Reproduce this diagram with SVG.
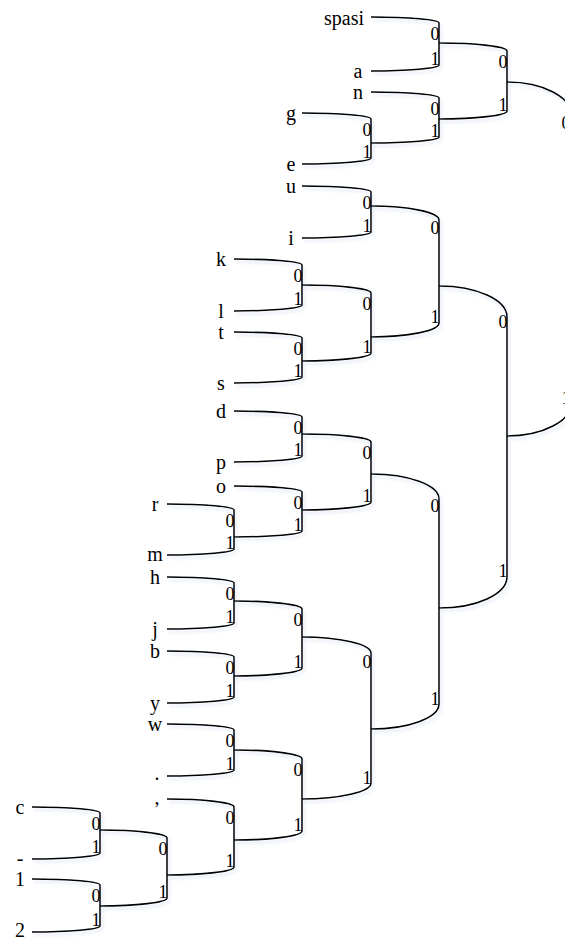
<svg xmlns="http://www.w3.org/2000/svg" width="565" height="940" viewBox="0 0 565 940">
  <style>
    .br { fill: none; stroke: #000; stroke-width: 1.6; }
    .bit { font-family: "Liberation Serif", "Times New Roman", serif; font-size: 18px; fill: #000; text-anchor: end; }
    .sym { font-family: "Liberation Serif", "Times New Roman", serif; font-size: 20px; fill: #000; text-anchor: middle; }
  </style>
  <defs>
    <filter id="soft" x="-10%" y="-10%" width="130%" height="130%">
      <feDropShadow dx="2" dy="3" stdDeviation="1.4" flood-color="#9db6d8" flood-opacity="0.35"/>
    </filter>
  </defs>
  <rect width="565" height="940" fill="#fff"/>

  <!-- bracket connectors: each joins two children into their parent -->
  <g id="connectors" filter="url(#soft)">
    <path id="e-root" class="br" d="M507,82 C542.9,82 572,97.2 572,116 L572,402 C572,420.8 542.9,436 507,436"/>
    <path id="e-A" class="br" d="M439,43 C476.5,43 507,46.6 507,51 L507,111 C507,115.4 476.5,119 439,119"/>
    <path id="e-S1" class="br" d="M371,17 C408.5,17 439,19.7 439,23 L439,65 C439,68.3 408.5,71 371,71"/>
    <path id="e-A2" class="br" d="M371,92 C408.5,92 439,94.7 439,98 L439,137 C439,140.3 408.5,143 371,143"/>
    <path id="e-ge" class="br" d="M302,113 C340.1,113 371,115.7 371,119 L371,158 C371,161.3 340.1,164 302,164"/>
    <path id="e-B" class="br" d="M439,286 C476.5,286 507,299.9 507,317 L507,577 C507,594.1 476.5,608 439,608"/>
    <path id="e-B1" class="br" d="M371,206 C408.5,206 439,212.3 439,220 L439,323 C439,330.7 408.5,337 371,337"/>
    <path id="e-B1a" class="br" d="M302,186 C340.1,186 371,188.7 371,192 L371,232 C371,235.3 340.1,238 302,238"/>
    <path id="e-B1b" class="br" d="M302,285 C340.1,285 371,288.6 371,293 L371,353 C371,357.4 340.1,361 302,361"/>
    <path id="e-kl" class="br" d="M234,259 C271.5,259 302,261.7 302,265 L302,305 C302,308.3 271.5,311 234,311"/>
    <path id="e-ts" class="br" d="M234,332 C271.5,332 302,334.7 302,338 L302,377 C302,380.3 271.5,383 234,383"/>
    <path id="e-B2" class="br" d="M371,474 C408.5,474 439,485.2 439,499 L439,704 C439,717.8 408.5,729 371,729"/>
    <path id="e-B2a" class="br" d="M302,434 C340.1,434 371,437.6 371,442 L371,502 C371,506.4 340.1,510 302,510"/>
    <path id="e-dp" class="br" d="M234,411 C271.5,411 302,413.7 302,417 L302,456 C302,459.3 271.5,462 234,462"/>
    <path id="e-orm" class="br" d="M234,486 C271.5,486 302,488.7 302,492 L302,531 C302,534.3 271.5,537 234,537"/>
    <path id="e-rm" class="br" d="M167,504 C204,504 234,506.7 234,510 L234,549 C234,552.3 204,555 167,555"/>
    <path id="e-B2b" class="br" d="M302,637 C340.1,637 371,644.2 371,653 L371,783 C371,791.8 340.1,799 302,799"/>
    <path id="e-hjby" class="br" d="M234,601 C271.5,601 302,604.6 302,609 L302,668 C302,672.4 271.5,676 234,676"/>
    <path id="e-hj" class="br" d="M167,577 C204,577 234,579.7 234,583 L234,623 C234,626.3 204,629 167,629"/>
    <path id="e-by" class="br" d="M167,651 C204,651 234,653.7 234,657 L234,697 C234,700.3 204,703 167,703"/>
    <path id="e-W" class="br" d="M234,750 C271.5,750 302,754 302,759 L302,831 C302,836 271.5,840 234,840"/>
    <path id="e-wdot" class="br" d="M167,724 C204,724 234,726.7 234,730 L234,770 C234,773.3 204,776 167,776"/>
    <path id="e-comma" class="br" d="M167,799 C204,799 234,802.6 234,807 L234,867 C234,871.4 204,875 167,875"/>
    <path id="e-c12" class="br" d="M100,830 C137,830 167,833.6 167,838 L167,898 C167,902.4 137,906 100,906"/>
    <path id="e-cdash" class="br" d="M32,807 C69.5,807 100,809.7 100,813 L100,853 C100,856.3 69.5,859 32,859"/>
    <path id="e-12" class="br" d="M32,879 C69.5,879 100,881.7 100,885 L100,926 C100,929.3 69.5,932 32,932"/>
  </g>

  <!-- internal nodes: branch bits -->
  <g id="n-root"><text class="bit" x="570.5" y="129">0</text><text class="bit" x="570.5" y="404">1</text></g>
  <g id="n-A"><text class="bit" x="507.5" y="68">0</text><text class="bit" x="507.5" y="111">1</text></g>
  <g id="n-S1"><text class="bit" x="439.5" y="40">0</text><text class="bit" x="439.5" y="65">1</text></g>
  <g id="n-A2"><text class="bit" x="439.5" y="115">0</text><text class="bit" x="439.5" y="137">1</text></g>
  <g id="n-ge"><text class="bit" x="371.5" y="136">0</text><text class="bit" x="371.5" y="158">1</text></g>
  <g id="n-B"><text class="bit" x="507.5" y="328">0</text><text class="bit" x="507.5" y="577">1</text></g>
  <g id="n-B1"><text class="bit" x="439.5" y="234">0</text><text class="bit" x="439.5" y="323">1</text></g>
  <g id="n-B1a"><text class="bit" x="371.5" y="209">0</text><text class="bit" x="371.5" y="232">1</text></g>
  <g id="n-B1b"><text class="bit" x="371.5" y="310">0</text><text class="bit" x="371.5" y="353">1</text></g>
  <g id="n-kl"><text class="bit" x="302.5" y="282">0</text><text class="bit" x="302.5" y="305">1</text></g>
  <g id="n-ts"><text class="bit" x="302.5" y="355">0</text><text class="bit" x="302.5" y="377">1</text></g>
  <g id="n-B2"><text class="bit" x="439.5" y="512">0</text><text class="bit" x="439.5" y="705">1</text></g>
  <g id="n-B2a"><text class="bit" x="371.5" y="459">0</text><text class="bit" x="371.5" y="502">1</text></g>
  <g id="n-dp"><text class="bit" x="302.5" y="434">0</text><text class="bit" x="302.5" y="456">1</text></g>
  <g id="n-orm"><text class="bit" x="302.5" y="509">0</text><text class="bit" x="302.5" y="531">1</text></g>
  <g id="n-rm"><text class="bit" x="234.5" y="527">0</text><text class="bit" x="234.5" y="549">1</text></g>
  <g id="n-B2b"><text class="bit" x="371.5" y="668">0</text><text class="bit" x="371.5" y="784">1</text></g>
  <g id="n-hjby"><text class="bit" x="302.5" y="626">0</text><text class="bit" x="302.5" y="668">1</text></g>
  <g id="n-hj"><text class="bit" x="234.5" y="600">0</text><text class="bit" x="234.5" y="623">1</text></g>
  <g id="n-by"><text class="bit" x="234.5" y="674">0</text><text class="bit" x="234.5" y="697">1</text></g>
  <g id="n-W"><text class="bit" x="302.5" y="776">0</text><text class="bit" x="302.5" y="831">1</text></g>
  <g id="n-wdot"><text class="bit" x="234.5" y="747">0</text><text class="bit" x="234.5" y="770">1</text></g>
  <g id="n-comma"><text class="bit" x="234.5" y="824">0</text><text class="bit" x="234.5" y="867">1</text></g>
  <g id="n-c12"><text class="bit" x="167.5" y="855">0</text><text class="bit" x="167.5" y="898">1</text></g>
  <g id="n-cdash"><text class="bit" x="100.5" y="830">0</text><text class="bit" x="100.5" y="853">1</text></g>
  <g id="n-12"><text class="bit" x="100.5" y="902">0</text><text class="bit" x="100.5" y="926">1</text></g>

  <!-- leaves: symbols -->
  <g id="leaf-spasi"><text class="sym" x="364" y="25" style="text-anchor:end">spasi</text></g>
  <g id="leaf-a"><text class="sym" x="358" y="78">a</text></g>
  <g id="leaf-n"><text class="sym" x="358" y="99">n</text></g>
  <g id="leaf-g"><text class="sym" x="291" y="120">g</text></g>
  <g id="leaf-e"><text class="sym" x="291" y="171">e</text></g>
  <g id="leaf-u"><text class="sym" x="291" y="193">u</text></g>
  <g id="leaf-i"><text class="sym" x="291" y="245">i</text></g>
  <g id="leaf-k"><text class="sym" x="221" y="266">k</text></g>
  <g id="leaf-l"><text class="sym" x="221" y="318">l</text></g>
  <g id="leaf-t"><text class="sym" x="221" y="339">t</text></g>
  <g id="leaf-s"><text class="sym" x="221" y="390">s</text></g>
  <g id="leaf-d"><text class="sym" x="221" y="418">d</text></g>
  <g id="leaf-p"><text class="sym" x="221" y="469">p</text></g>
  <g id="leaf-o"><text class="sym" x="221" y="493">o</text></g>
  <g id="leaf-r"><text class="sym" x="155" y="511">r</text></g>
  <g id="leaf-m"><text class="sym" x="155" y="561">m</text></g>
  <g id="leaf-h"><text class="sym" x="155" y="584">h</text></g>
  <g id="leaf-j"><text class="sym" x="155" y="636">j</text></g>
  <g id="leaf-b"><text class="sym" x="155" y="658">b</text></g>
  <g id="leaf-y"><text class="sym" x="155" y="710">y</text></g>
  <g id="leaf-w"><text class="sym" x="155" y="731">w</text></g>
  <g id="leaf-dot"><text class="sym" x="157" y="780">.</text></g>
  <g id="leaf-comma"><text class="sym" x="157" y="804">,</text></g>
  <g id="leaf-c"><text class="sym" x="20" y="814">c</text></g>
  <g id="leaf-dash"><text class="sym" x="20" y="865">-</text></g>
  <g id="leaf-1"><text class="sym" x="20" y="886">1</text></g>
  <g id="leaf-2"><text class="sym" x="20" y="937">2</text></g>
</svg>
